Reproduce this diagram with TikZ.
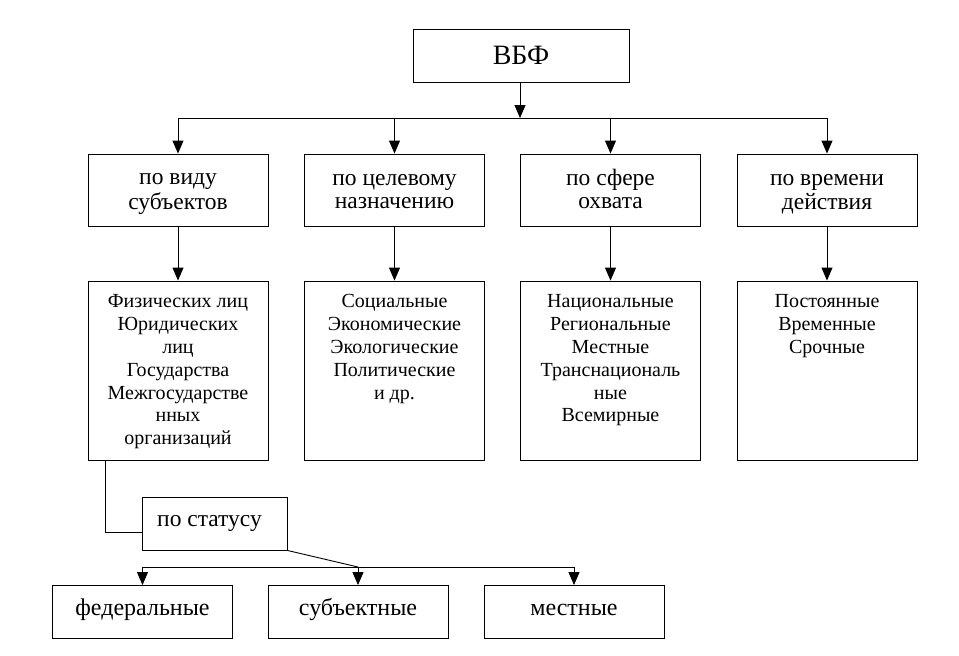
\documentclass[tikz,border=0pt]{standalone}
\usepackage{fontspec}
\setmainfont{Liberation Serif}
\usetikzlibrary{arrows.meta}
\begin{document}
\begin{tikzpicture}[x=1pt,y=-1pt,
  box/.style={draw, line width=0.9pt, inner sep=0pt, align=center},
  topbox/.style={box, minimum width=216pt, minimum height=53pt, font=\fontsize{28}{30}\selectfont, text height=19pt, text depth=2pt},
  catbox/.style={box, minimum width=180pt, minimum height=72pt},
  cattext/.style={inner sep=0pt, align=center, font=\fontsize{23.5}{22.8}\selectfont},
  listbox/.style={box, minimum width=180pt, minimum height=179pt},
  listtext/.style={anchor=north, inner sep=0pt, align=center, font=\fontsize{20}{22.8}\selectfont},
  stbox/.style={box, minimum width=145pt, minimum height=53pt, font=\fontsize{23.5}{24}\selectfont, text height=16pt, text depth=11pt},
  botbox/.style={box, minimum width=180pt, minimum height=53pt, font=\fontsize{24}{24}\selectfont, text height=16pt, text depth=8.6pt},
  line/.style={line width=0.9pt},
  arr/.style={line width=0.9pt, -{Triangle[length=13pt,width=11pt]}}]
\useasboundingbox (0,0) rectangle (959,656);
\node[topbox] (top) at (521,55.5) {ВБФ};
\coordinate (bus) at (0,118);
\node[catbox] (u1) at (178,190) {};
\node[catbox] (u2) at (394.5,190) {};
\node[catbox] (u3) at (610.5,190) {};
\node[catbox] (u4) at (827,190) {};
\node[cattext] (c1) at ([yshift=-2.5pt]u1.center) {по виду\strut\\субъектов\strut};
\node[cattext] (c2) at ([yshift=-2.5pt]u2.center) {по целевому\strut\\назначению\strut};
\node[cattext] (c3) at ([yshift=-2.5pt]u3.center) {по сфере\strut\\охвата\strut};
\node[cattext] (c4) at ([yshift=-2.5pt]u4.center) {по времени\strut\\действия\strut};
\node[listbox] (l1) at (178,370.5) {};
\node[listbox] (l2) at (394.5,370.5) {};
\node[listbox] (l3) at (610.5,370.5) {};
\node[listbox] (l4) at (827,370.5) {};
\node[listtext] (t1) at ([yshift=-14pt]l1.north) {Физических лиц\\Юридических\\лиц\\Государства\\Межгосударстве\\нных\\организаций};
\node[listtext] (t2) at ([yshift=-14pt]l2.north) {Социальные\\Экономические\\Экологические\\Политические\\и др.};
\node[listtext] (t3) at ([yshift=-14pt]l3.north) {Национальные\\Региональные\\Местные\\Транснациональ\\ные\\Всемирные};
\node[listtext] (t4) at ([yshift=-14pt]l4.north) {Постоянные\\Временные\\Срочные};
\node[stbox] (st) at (214.5,523.5) {\hspace*{-10pt}по статусу};
\coordinate (bus2) at (0,567);
\node[botbox] (b1) at (142.5,612) {федеральные};
\node[botbox] (b2) at (358,612) {субъектные};
\node[botbox] (b3) at (574,612) {местные};
\draw[arr] (top.south -| 520,0) -- (520,118);
\draw[line] (u1.north |- bus) -- (u4.north |- bus);
\foreach \n in {u1,u2,u3,u4} \draw[arr] (\n.north |- bus) -- (\n.north);
\foreach \n in {1,2,3,4} \draw[arr] (u\n.south) -- (l\n.north);
\draw[line] ([xshift=18pt]l1.south west) |- ([yshift=-9pt]st.west);
\draw[line] (st.south east) -- (b2.north |- bus2);
\draw[line] (b1.north |- bus2) -- (b3.north |- bus2);
\foreach \n in {b1,b2,b3} \draw[arr] (\n.north |- bus2) -- (\n.north);
\end{tikzpicture}
\end{document}
